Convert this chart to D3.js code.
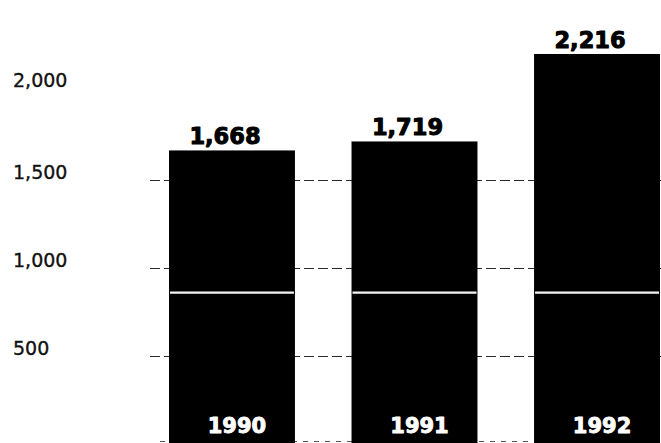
<!DOCTYPE html>
<html>
<head>
<meta charset="utf-8">
<script src="https://cdn.jsdelivr.net/npm/d3@7"></script>
<style>
  html, body { margin: 0; padding: 0; background: #fff; }
  svg { display: block; }
</style>
</head>
<body>
<svg id="chart" width="661" height="443"></svg>
<script>
// Annual totals, 1990–1992
const years = ["1990", "1991", "1992"];
const totals = [1668, 1719, 2216];
const tickValues = [500, 1000, 1500, 2000];
const tickLabels = ["500", "1,000", "1,500", "2,000"];
const gridValues = [500, 1000, 1500];
const seamValue = 860; // white rule printed across every column

const width = 661, height = 443;
const svg = d3.select("#chart");

const x = d3.scaleBand()
  .domain(years)
  .range([169, 660])
  .paddingInner(0.31)
  .paddingOuter(0);

const y = d3.scaleLinear()
  .domain([0, 2000])
  .range([444, 92]);

// dashed reference lines behind the columns
svg.append("g")
  .selectAll("line")
  .data(gridValues)
  .join("line")
  .attr("x1", 150)
  .attr("x2", width)
  .attr("y1", d => Math.round(y(d)) + 0.5)
  .attr("y2", d => Math.round(y(d)) + 0.5)
  .attr("stroke", "#2a2a2a")
  .attr("stroke-width", 1)
  .attr("stroke-dasharray", "10,4");

// baseline dashes along the bottom
svg.append("line")
  .attr("x1", 160).attr("x2", width)
  .attr("y1", height - 1.5).attr("y2", height - 1.5)
  .attr("stroke", "#555")
  .attr("stroke-dasharray", "5,6");

// value axis: labels only, set just above each reference line
const axis = d3.axisLeft(y)
  .tickValues(tickValues)
  .tickFormat((d, i) => tickLabels[i])
  .tickSize(0);

const axisG = svg.append("g").call(axis);
axisG.select(".domain").remove();
axisG.selectAll("text")
  .attr("x", 13)
  .attr("dy", d => d === 2000 ? "-0.3em" : "-0.08em")
  .attr("text-anchor", "start")
  .attr("fill", "#111")
  .attr("stroke", "#111")
  .attr("stroke-width", 0.35)
  .style("font-family", "'DejaVu Sans', sans-serif")
  .style("font-size", "19px");

// columns
const bars = svg.append("g")
  .selectAll("g")
  .data(years.map((yr, i) => ({ year: yr, value: totals[i] })))
  .join("g");

bars.append("rect")
  .attr("x", d => x(d.year))
  .attr("y", d => y(d.value))
  .attr("width", x.bandwidth())
  .attr("height", d => y(0) - y(d.value))
  .attr("fill", "#000");

// white seam through the columns
bars.append("line")
  .attr("x1", d => x(d.year) + 1)
  .attr("x2", d => x(d.year) + x.bandwidth() - 1)
  .attr("y1", y(seamValue))
  .attr("y2", y(seamValue))
  .attr("stroke", "#f4f4f4")
  .attr("stroke-width", 2.4);

// value labels above each column
bars.append("text")
  .attr("x", d => x(d.year) + x.bandwidth() / 2 - 7)
  .attr("y", d => y(d.value) - 6)
  .attr("text-anchor", "middle")
  .attr("fill", "#000")
  .attr("stroke", "#000")
  .attr("stroke-width", 1)
  .attr("stroke-linejoin", "round")
  .style("font-family", "'DejaVu Sans', sans-serif")
  .style("font-weight", "bold")
  .style("font-size", "22.5px")
  .text(d => d3.format(",")(d.value));

// year labels inside the column bases
bars.append("text")
  .attr("x", d => x(d.year) + x.bandwidth() / 2 + 5)
  .attr("y", 433)
  .attr("text-anchor", "middle")
  .attr("fill", "#fff")
  .attr("stroke", "#fff")
  .attr("stroke-width", 0.9)
  .attr("stroke-linejoin", "round")
  .style("font-family", "'DejaVu Sans', sans-serif")
  .style("font-weight", "bold")
  .style("font-size", "21px")
  .text(d => d.year);
</script>
</body>
</html>
